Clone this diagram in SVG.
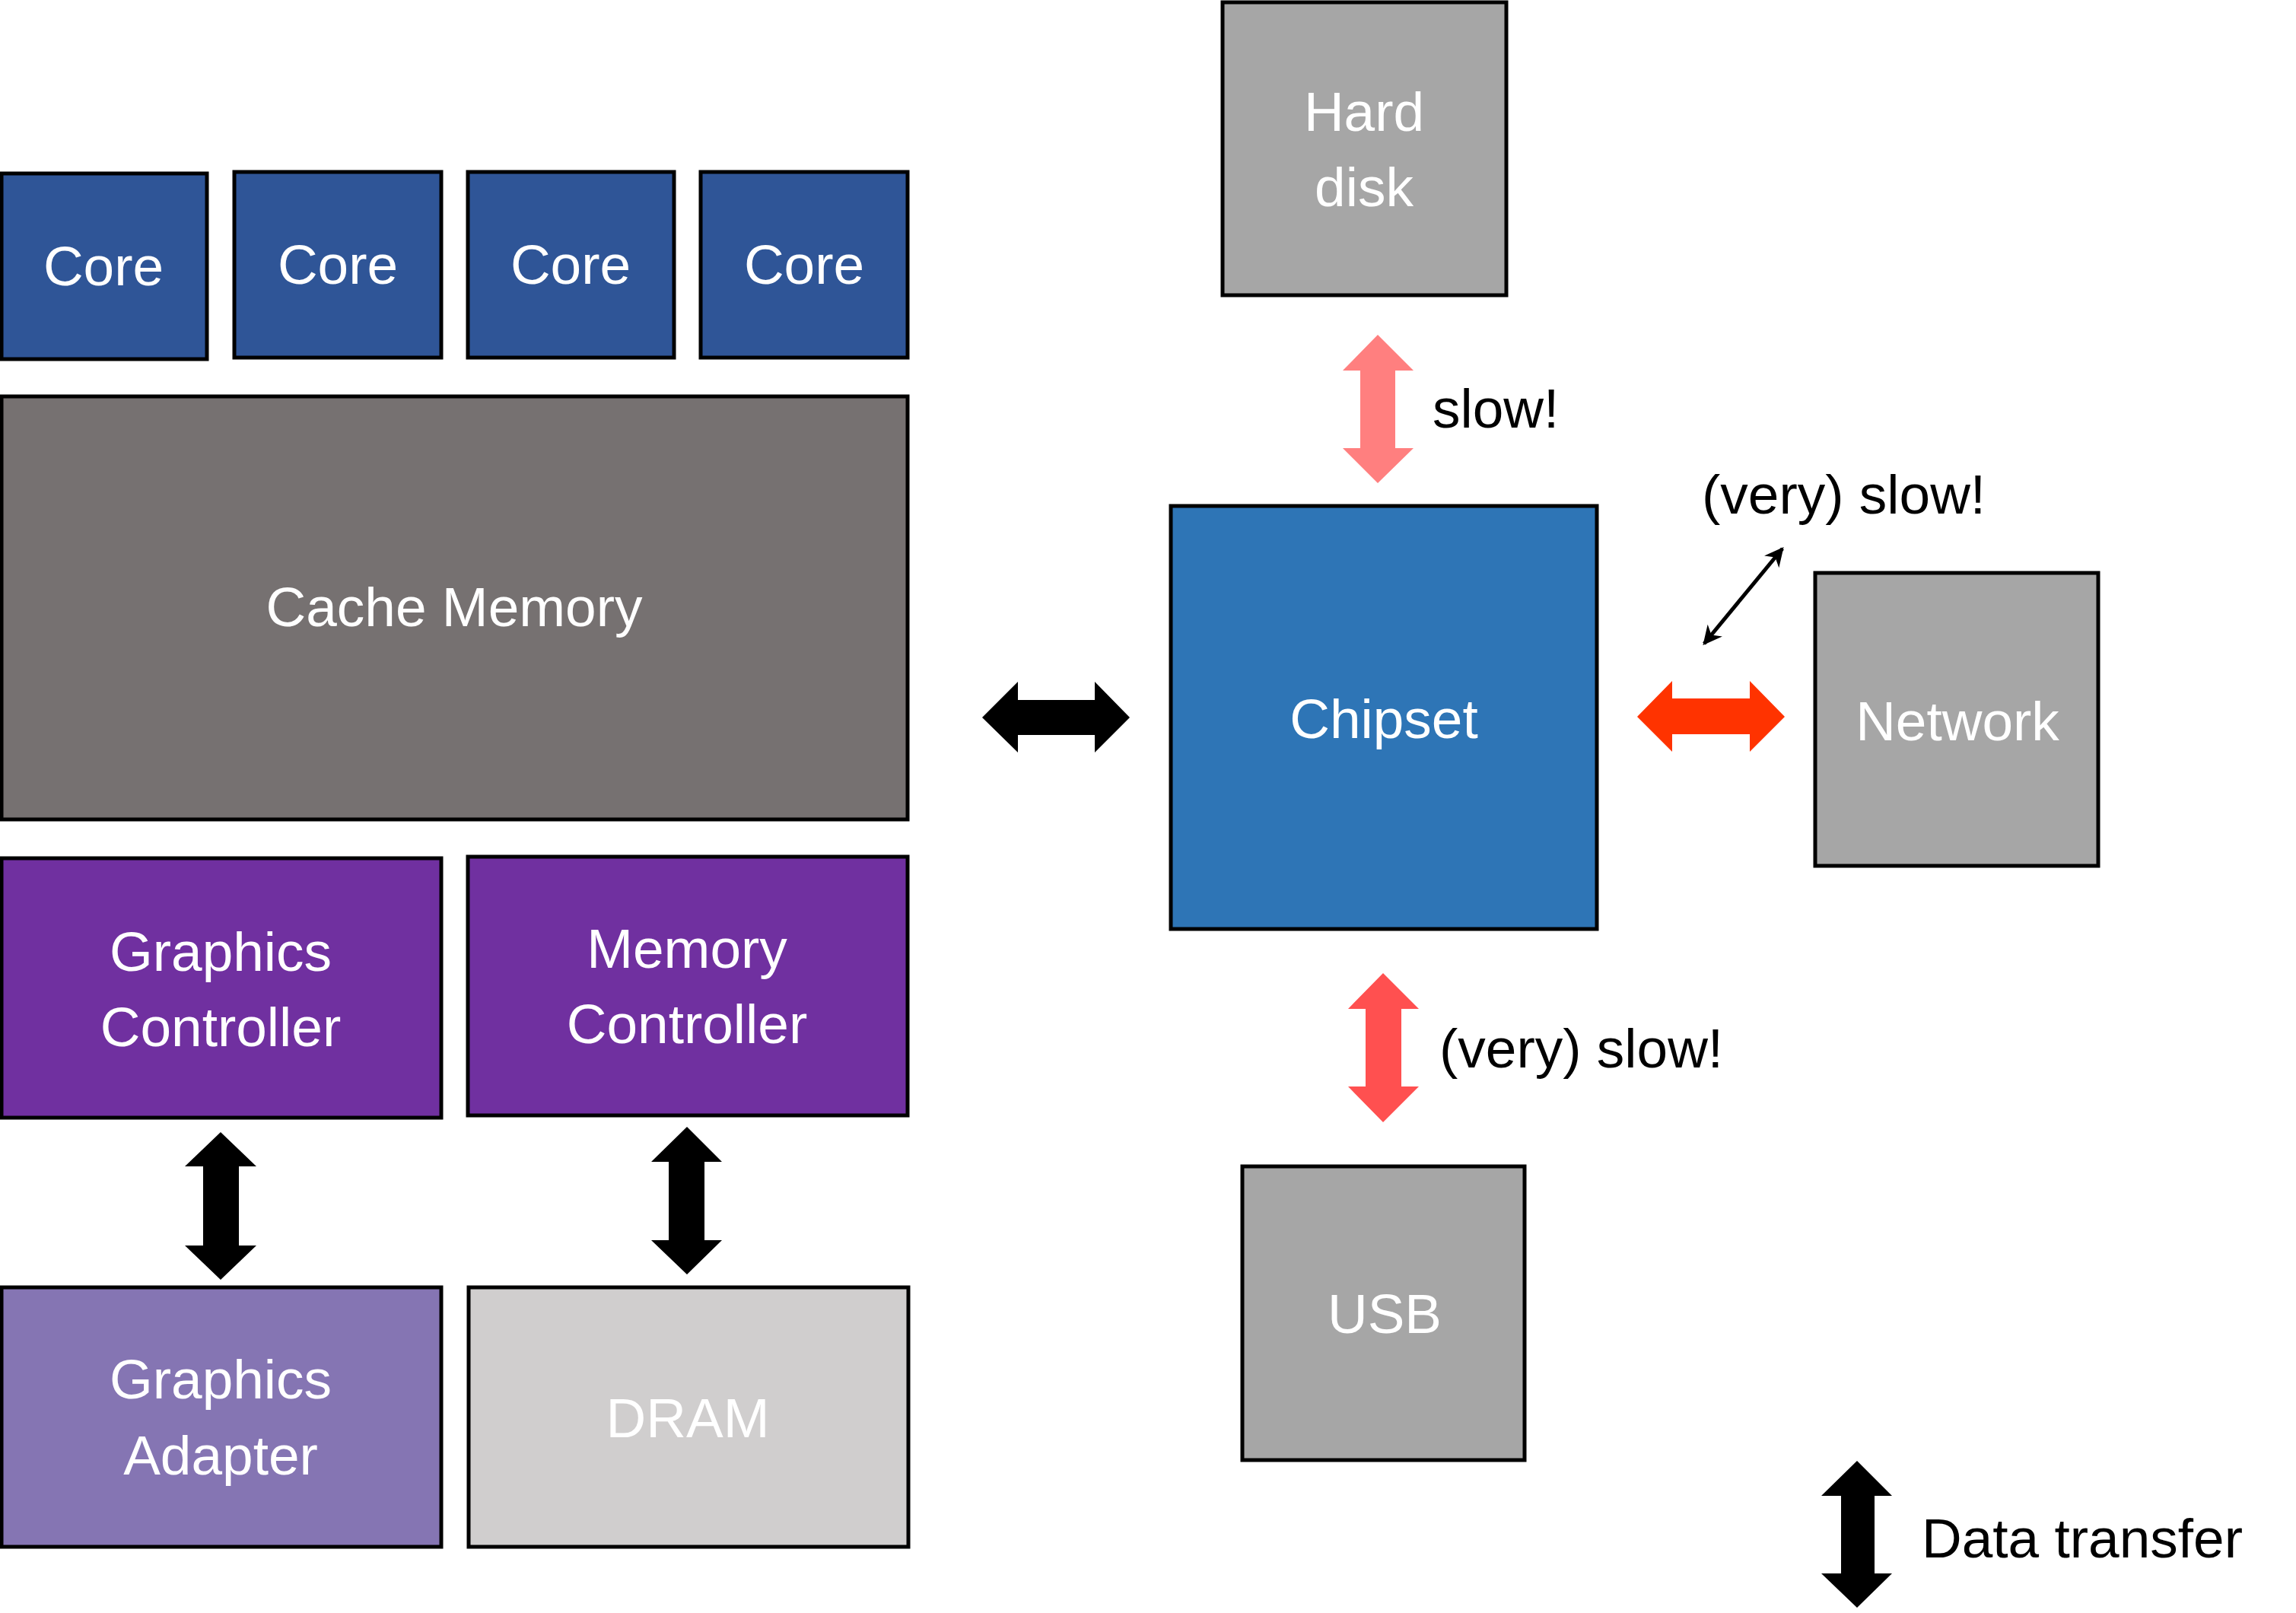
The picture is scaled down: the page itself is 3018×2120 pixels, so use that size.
<svg xmlns="http://www.w3.org/2000/svg" width="3018" height="2120" viewBox="0 0 3018 2120">
<style>
.box{stroke:#000;stroke-width:5}
.lbl{font-family:"Liberation Sans",Arial,sans-serif;font-size:73px;fill:#fff;text-anchor:middle}
.note{font-family:"Liberation Sans",Arial,sans-serif;font-size:73px;fill:#000}
</style>
<defs>
<marker id="ah" viewBox="0 0 10 10" refX="9" refY="5" markerWidth="5" markerHeight="5" orient="auto-start-reverse" markerUnits="strokeWidth">
<path d="M0,0 L10,5 L0,10 L3,5 z" fill="#000"/>
</marker>
</defs>
<rect width="3018" height="2120" fill="#fff"/>
<g id="core1"><rect class="box" x="2" y="228" width="270" height="244" fill="#2F5597"/><text class="lbl" x="136" y="375">Core</text></g>
<g id="core2"><rect class="box" x="308" y="226" width="272" height="244" fill="#2F5597"/><text class="lbl" x="444" y="373">Core</text></g>
<g id="core3"><rect class="box" x="615" y="226" width="271" height="244" fill="#2F5597"/><text class="lbl" x="750" y="373">Core</text></g>
<g id="core4"><rect class="box" x="921" y="226" width="272" height="244" fill="#2F5597"/><text class="lbl" x="1057" y="373">Core</text></g>
<g id="cache"><rect class="box" x="2" y="521" width="1191" height="556" fill="#767171"/><text class="lbl" x="597" y="823">Cache Memory</text></g>
<g id="graphics-controller"><rect class="box" x="2" y="1128" width="578" height="341" fill="#7030A0"/><text class="lbl" x="290" y="1276">Graphics</text><text class="lbl" x="290" y="1375">Controller</text></g>
<g id="memory-controller"><rect class="box" x="615" y="1126" width="578" height="340" fill="#7030A0"/><text class="lbl" x="903" y="1272">Memory</text><text class="lbl" x="903" y="1371">Controller</text></g>
<g id="graphics-adapter"><rect class="box" x="2" y="1692" width="578" height="341" fill="#8575B3"/><text class="lbl" x="290" y="1838">Graphics</text><text class="lbl" x="290" y="1938">Adapter</text></g>
<g id="dram"><rect class="box" x="616" y="1692" width="578" height="341" fill="#D0CECE"/><text class="lbl" x="904" y="1889">DRAM</text></g>
<g id="hard-disk"><rect class="box" x="1607" y="3" width="373" height="385" fill="#A6A6A6"/><text class="lbl" x="1793" y="172">Hard</text><text class="lbl" x="1793" y="271">disk</text></g>
<g id="chipset"><rect class="box" x="1539" y="665" width="560" height="556" fill="#2E75B6"/><text class="lbl" x="1819" y="970">Chipset</text></g>
<g id="network"><rect class="box" x="2386" y="753" width="372" height="385" fill="#A6A6A6"/><text class="lbl" x="2573" y="973">Network</text></g>
<g id="usb"><rect class="box" x="1633" y="1533" width="371" height="386" fill="#A6A6A6"/><text class="lbl" x="1820" y="1752">USB</text></g>
<g id="connectors">
<polygon fill="#000" points="1291,943 1338,896 1338,920 1439,920 1439,896 1485,943 1439,989 1439,966 1338,966 1338,989"/>
<polygon fill="#FF3300" points="2152,942 2198,895 2198,918 2300,918 2300,895 2346,942 2300,988 2300,965 2198,965 2198,988"/>
<polygon fill="#FF7F7F" points="1811,440 1858,487 1834,487 1834,589 1858,589 1811,635 1765,589 1788,589 1788,487 1765,487"/>
<polygon fill="#FF5050" points="1818,1279 1865,1326 1842,1326 1842,1428 1865,1428 1818,1475 1772,1428 1795,1428 1795,1326 1772,1326"/>
<polygon fill="#000" points="290,1488 337,1533 314,1533 314,1637 337,1637 290,1682 243,1637 267,1637 267,1533 243,1533"/>
<polygon fill="#000" points="903,1481 949,1527 926,1527 926,1630 949,1630 903,1675 856,1630 879,1630 879,1527 856,1527"/>
<polygon fill="#000" points="2441,1920 2487,1966 2464,1966 2464,2068 2487,2068 2441,2113 2394,2068 2420,2068 2420,1966 2394,1966"/>
<line x1="2240" y1="846" x2="2343" y2="721" stroke="#000" stroke-width="5" marker-start="url(#ah)" marker-end="url(#ah)"/>
</g>
<text class="note" x="1883" y="562">slow!</text>
<text class="note" x="2237" y="675">(very) slow!</text>
<text class="note" x="1892" y="1403">(very) slow!</text>
<text class="note" x="2526" y="2047">Data transfer</text>
</svg>
